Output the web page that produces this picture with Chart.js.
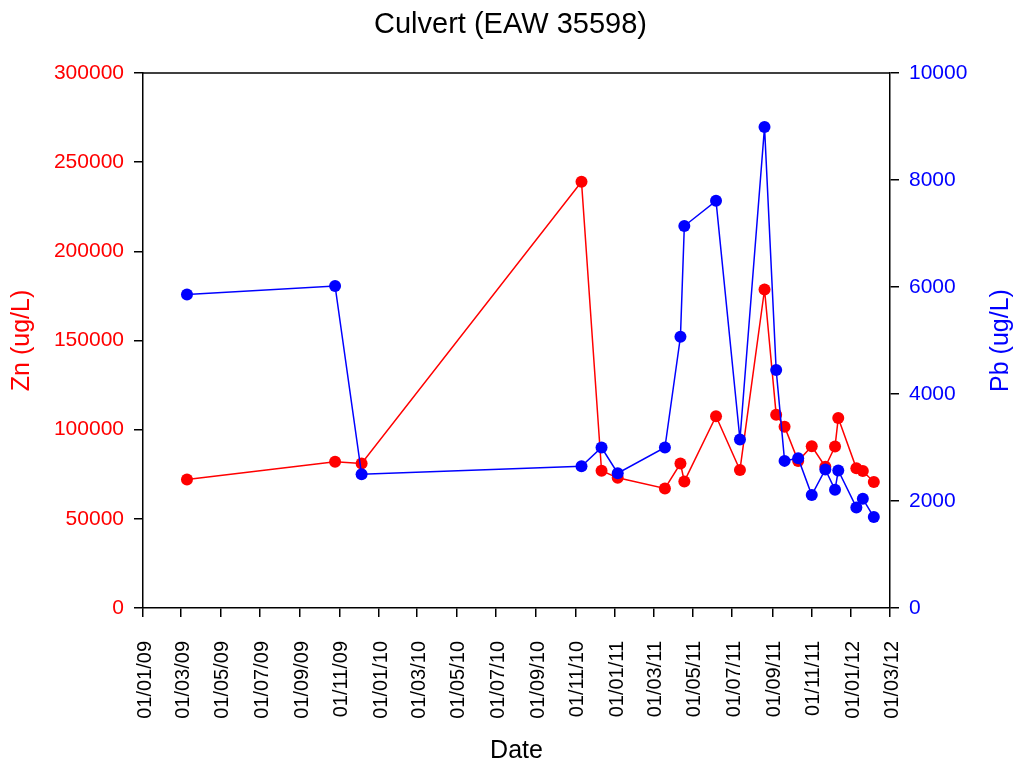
<!DOCTYPE html>
<html>
<head>
<meta charset="utf-8">
<title>Culvert (EAW 35598)</title>
<script src="https://cdn.jsdelivr.net/npm/chart.js@4.4.1/dist/chart.umd.min.js"></script>
<style>
  html, body { margin: 0; padding: 0; background: #fff; }
  #grafico { display: block; }
</style>
</head>
<body>
<canvas id="grafico" width="1021" height="766"></canvas>
<script>
// fechas de muestreo (dd/mm/yy)
const fechas = [
  "10/03/09", "25/10/09", "05/12/09", "10/11/10", "11/12/10", "05/01/11",
  "19/03/11", "12/04/11", "18/04/11", "06/06/11", "13/07/11", "20/08/11",
  "07/09/11", "20/09/11", "11/10/11", "01/11/11", "22/11/11", "07/12/11",
  "12/12/11", "09/01/12", "19/01/12", "05/02/12"
];
// zinc (ug/L)
const zinc = [
  72000, 82000, 81000, 239000, 77000, 73000,
  67000, 81000, 71000, 107500, 77400, 178600,
  108400, 101700, 82400, 90700, 79200, 90500,
  106500, 78300, 76800, 70700
];
// plomo (ug/L)
const plomo = [
  5860, 6020, 2500, 2650, 3000, 2520,
  3000, 5070, 7140, 7610, 3150, 8990,
  4450, 2750, 2800, 2110, 2590, 2210,
  2570, 1880, 2040, 1700
];
// etiquetas del eje x
const etiquetasX = [
  "01/01/09", "01/03/09", "01/05/09", "01/07/09", "01/09/09", "01/11/09",
  "01/01/10", "01/03/10", "01/05/10", "01/07/10", "01/09/10", "01/11/10",
  "01/01/11", "01/03/11", "01/05/11", "01/07/11", "01/09/11", "01/11/11",
  "01/01/12", "01/03/12"
];
const ticksZn = [0, 50000, 100000, 150000, 200000, 250000, 300000];
const ticksPb = [0, 2000, 4000, 6000, 8000, 10000];

const fuente = "'Liberation Sans', Arial, sans-serif";
const ROJO = "#ff0000";
const AZUL = "#0000ff";

// dd/mm/yy -> dias desde el 01/01/09
const aDias = (txt) => {
  const [d, m, a] = txt.split("/").map(Number);
  return (Date.UTC(2000 + a, m - 1, d) - Date.UTC(2009, 0, 1)) / 86400000;
};
const diasX = etiquetasX.map(aDias);
const serie = (valores) => valores.map((v, i) => ({ x: aDias(fechas[i]), y: v }));

// marco superior y titulos de los ejes y
const extras = {
  id: "extras",
  beforeDatasetsDraw(chart) {
    const { ctx, chartArea } = chart;
    ctx.save();
    ctx.strokeStyle = "#000";
    ctx.lineWidth = 1.5;
    ctx.beginPath();
    ctx.moveTo(chartArea.left, chartArea.top);
    ctx.lineTo(chartArea.right, chartArea.top);
    ctx.stroke();
    ctx.restore();
  },
  afterDraw(chart) {
    const { ctx, chartArea } = chart;
    const medio = (chartArea.top + chartArea.bottom) / 2;
    ctx.save();
    ctx.font = "25px " + fuente;
    ctx.textAlign = "center";
    ctx.textBaseline = "middle";
    ctx.fillStyle = ROJO;
    ctx.translate(22, medio);
    ctx.rotate(-Math.PI / 2);
    ctx.fillText("Zn (ug/L)", 0, 0);
    ctx.restore();
    ctx.save();
    ctx.font = "25px " + fuente;
    ctx.textAlign = "center";
    ctx.textBaseline = "middle";
    ctx.fillStyle = AZUL;
    ctx.translate(chart.width - 20, medio);
    ctx.rotate(-Math.PI / 2);
    ctx.fillText("Pb (ug/L)", 0, 0);
    ctx.restore();
  }
};

const ejeBase = {
  border: { display: true, color: "#000", width: 1.5 },
  grid: { drawOnChartArea: false, drawTicks: true, tickLength: 9, color: "#000", lineWidth: 1.5 }
};

const config = {
  type: "line",
  data: {
    datasets: [
      {
        label: "Pb",
        data: serie(plomo),
        yAxisID: "yPb",
        borderColor: AZUL,
        backgroundColor: AZUL,
        borderWidth: 1.5,
        pointRadius: 6,
        pointBorderWidth: 0,
        pointBackgroundColor: AZUL,
        order: 0
      },
      {
        label: "Zn",
        data: serie(zinc),
        yAxisID: "yZn",
        borderColor: ROJO,
        backgroundColor: ROJO,
        borderWidth: 1.5,
        pointRadius: 6,
        pointBorderWidth: 0,
        pointBackgroundColor: ROJO,
        order: 1
      }
    ]
  },
  options: {
    responsive: false,
    animation: false,
    layout: { padding: 0 },
    plugins: {
      legend: { display: false },
      tooltip: { enabled: false },
      title: {
        display: true,
        text: "Culvert (EAW 35598)",
        color: "#000",
        font: { family: fuente, size: 29, weight: "normal" },
        padding: { top: 8, bottom: 30.2 }
      }
    },
    scales: {
      x: {
        ...ejeBase,
        type: "linear",
        min: diasX[0],
        max: diasX[diasX.length - 1],
        afterBuildTicks: (eje) => {
          eje.ticks = diasX.map((v) => ({ value: v }));
        },
        afterFit: (eje) => { eje.height = 158; },
        ticks: {
          autoSkip: false,
          minRotation: 90,
          maxRotation: 90,
          padding: 24,
          labelOffset: 2,
          color: "#000",
          font: { family: fuente, size: 20 },
          callback: (v) => etiquetasX[diasX.indexOf(v)]
        },
        title: {
          display: true,
          text: "Date",
          color: "#000",
          font: { family: fuente, size: 25 },
          padding: 0
        }
      },
      yZn: {
        ...ejeBase,
        position: "left",
        min: 0,
        max: 300000,
        afterBuildTicks: (eje) => {
          eje.ticks = ticksZn.map((v) => ({ value: v }));
        },
        afterFit: (eje) => { eje.width = 143; },
        ticks: {
          padding: 10,
          color: ROJO,
          font: { family: fuente, size: 21 },
          callback: (v) => String(v)
        }
      },
      yPb: {
        ...ejeBase,
        position: "right",
        min: 0,
        max: 10000,
        afterBuildTicks: (eje) => {
          eje.ticks = ticksPb.map((v) => ({ value: v }));
        },
        afterFit: (eje) => { eje.width = 131; },
        ticks: {
          padding: 10,
          color: AZUL,
          font: { family: fuente, size: 21 },
          callback: (v) => String(v)
        }
      }
    }
  },
  plugins: [extras]
};

const chart = new Chart(document.getElementById("grafico"), config);
</script>
</body>
</html>
